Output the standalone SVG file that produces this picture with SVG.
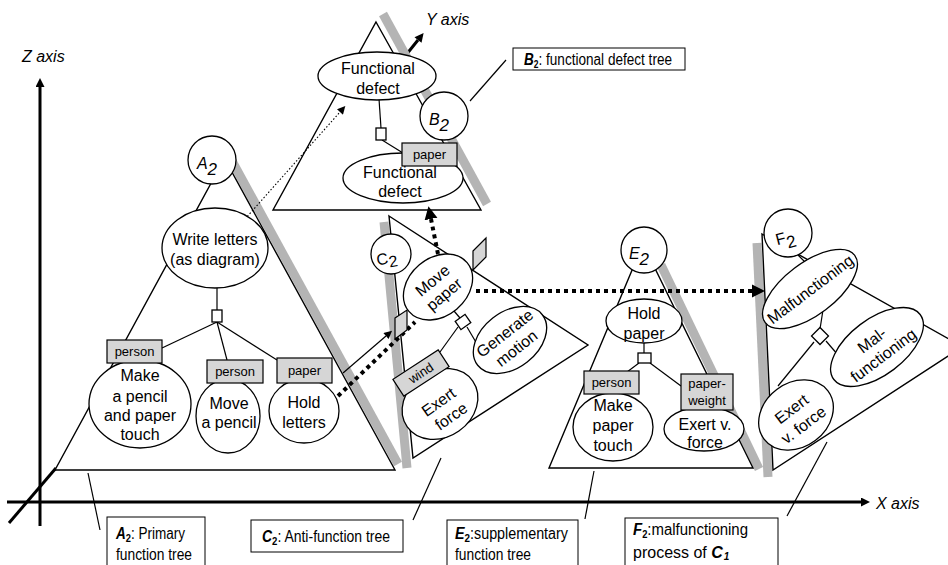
<svg xmlns="http://www.w3.org/2000/svg" width="948" height="565" viewBox="0 0 948 565">
  <defs>
    <marker id="axisHead" viewBox="0 0 10 10" refX="0" refY="5" markerWidth="10" markerHeight="9" markerUnits="userSpaceOnUse" orient="auto">
      <path d="M0,0 L10,5 L0,10 z" fill="#000"/>
    </marker>
    <marker id="bigHead" viewBox="0 0 10 10" refX="0" refY="5" markerWidth="13" markerHeight="14" markerUnits="userSpaceOnUse" orient="auto">
      <path d="M0,0 L10,5 L0,10 z" fill="#000"/>
    </marker>
    <marker id="thinHead" viewBox="0 0 10 10" refX="0" refY="5" markerWidth="9" markerHeight="8" markerUnits="userSpaceOnUse" orient="auto">
      <path d="M0,0 L10,5 L0,10 z" fill="#000"/>
    </marker>
  </defs>
  <style>
    .t{font-family:"Liberation Sans",Arial,sans-serif;fill:#000;text-anchor:middle;font-size:16px}
    .it{font-style:italic}
    .lbl{font-family:"Liberation Sans",Arial,sans-serif;fill:#000;font-size:16px}
    .node{fill:#fff;stroke:#000;stroke-width:1.3}
    .tag{fill:#d6d6d6;stroke:#000;stroke-width:1.2}
    .edge{stroke:#000;stroke-width:1.2;fill:none}
    .shade{stroke:#b4b4b4;stroke-width:9;fill:none}
    .plane{fill:#fff;stroke:#000;stroke-width:1.4}
    .axis{stroke:#000;stroke-width:3;fill:none}
    .dots{stroke:#000;stroke-width:4;stroke-dasharray:4 4;fill:none}
    .box{fill:#fff;stroke:#000;stroke-width:1}
    .small{font-size:13px}
  </style>

  <!-- coordinate axes -->
  <g id="axes">
    <line class="axis" x1="40" y1="526" x2="40" y2="87" marker-end="url(#axisHead)"/>
    <line class="axis" x1="7" y1="502" x2="861" y2="502" marker-end="url(#axisHead)"/>
    <line class="axis" x1="9" y1="523" x2="56" y2="468"/>
    <line class="axis" x1="406" y1="55" x2="418" y2="40" marker-end="url(#axisHead)"/>
    <text class="lbl it" x="22" y="62" font-size="17">Z axis</text>
    <text class="lbl it" x="426" y="25" font-size="17">Y axis</text>
    <text class="lbl it" x="876" y="509" font-size="17">X axis</text>
  </g>

  <!-- shaded plane edges -->
  <g id="shades">
    <line class="shade" x1="232" y1="161" x2="398" y2="464"/>
    <line class="shade" x1="383" y1="14" x2="487" y2="204"/>
    <line class="shade" x1="384" y1="222" x2="407" y2="468"/>
    <line class="shade" x1="661" y1="265" x2="759" y2="469"/>
    <line class="shade" x1="757" y1="243" x2="768" y2="477"/>
  </g>

  <!-- tree planes -->
  <g id="planes">
    <polygon class="plane" points="224.5,158.5 395,470 55,470"/>
    <polygon class="plane" points="376,22 481,210 273,210"/>
    <polygon class="plane" points="389,216 588,345 413,458"/>
    <polygon class="plane" points="643,244 753,468 549,468"/>
    <polygon class="plane" points="762,234 965,348 965,345 773,470"/>
  </g>

  <!-- connectors -->
  <g id="connectors">
    <!-- A2 tree -->
    <line class="edge" x1="217" y1="288" x2="217" y2="310"/>
    <line class="edge" x1="217" y1="322" x2="162" y2="348"/>
    <line class="edge" x1="217" y1="322" x2="227" y2="360"/>
    <line class="edge" x1="217" y1="322" x2="277" y2="360"/>
    <!-- B2 tree -->
    <line class="edge" x1="379" y1="99" x2="381" y2="128"/>
    <line class="edge" x1="382" y1="140" x2="403" y2="153"/>
    <!-- C2 tree -->
    <line class="edge" x1="454" y1="311" x2="460" y2="318"/>
    <line class="edge" x1="467" y1="327" x2="477" y2="344"/>
    <line class="edge" x1="458" y1="327" x2="440" y2="352"/>
    <!-- E2 tree -->
    <line class="edge" x1="644" y1="343" x2="644" y2="353"/>
    <line class="edge" x1="639" y1="363" x2="627" y2="372"/>
    <line class="edge" x1="650" y1="363" x2="681" y2="386"/>
    <!-- F2 tree -->
    <line class="edge" x1="797" y1="254" x2="806" y2="263"/>
    <line class="edge" x1="823" y1="310" x2="820" y2="329"/>
    <line class="edge" x1="826" y1="341" x2="838" y2="355"/>
    <line class="edge" x1="814" y1="342" x2="778" y2="386"/>
    <!-- label leaders -->
    <line class="edge" x1="470" y1="101" x2="506" y2="60"/>
    <line class="edge" x1="88" y1="473" x2="100" y2="530"/>
    <line class="edge" x1="413" y1="520" x2="441" y2="458"/>
    <line class="edge" x1="585" y1="519" x2="594" y2="471"/>
    <line class="edge" x1="787" y1="516" x2="827" y2="442"/>
    <!-- relations between trees -->
    <line x1="245" y1="219" x2="340" y2="112" stroke="#000" stroke-width="1.1" stroke-dasharray="1.5 2" marker-end="url(#thinHead)"/>
    <line class="edge" x1="343" y1="373" x2="386" y2="336" marker-end="url(#thinHead)"/>
    <line class="dots" x1="338" y1="396" x2="415" y2="322"/>
    <line class="dots" x1="438" y1="254" x2="431" y2="219" marker-end="url(#bigHead)"/>
    <line class="dots" x1="476" y1="291" x2="752" y2="291" marker-end="url(#bigHead)"/>
  </g>

  <!-- A2: primary function tree -->
  <g id="nodeA2">
    <circle class="node" cx="212" cy="160" r="24"/>
    <text class="t it" x="207" y="169" font-size="25">A<tspan font-size="17" dy="6">2</tspan></text>
  </g>
  <g id="writeLetters">
    <ellipse class="node" cx="215" cy="248" rx="53" ry="40"/>
    <text class="t" x="215" y="245">Write letters</text>
    <text class="t" x="215" y="265">(as diagram)</text>
  </g>
  <rect class="node" x="212" y="310" width="10" height="12"/>
  <g id="makePencilTouch">
    <ellipse class="node" cx="140" cy="404" rx="51" ry="44"/>
    <text class="t" x="140" y="381">Make</text>
    <text class="t" x="140" y="402">a pencil</text>
    <text class="t" x="140" y="421">and paper</text>
    <text class="t" x="140" y="440">touch</text>
    <rect class="tag" x="107" y="340" width="55" height="23"/>
    <text class="t small" x="134.5" y="356">person</text>
  </g>
  <g id="movePencil">
    <ellipse class="node" cx="228" cy="416" rx="32" ry="37"/>
    <text class="t" x="229" y="409">Move</text>
    <text class="t" x="229" y="428">a pencil</text>
    <rect class="tag" x="207" y="360" width="56" height="23"/>
    <text class="t small" x="235" y="376">person</text>
  </g>
  <g id="holdLetters">
    <ellipse class="node" cx="304" cy="411" rx="35" ry="32"/>
    <text class="t" x="304" y="408">Hold</text>
    <text class="t" x="304" y="428">letters</text>
    <rect class="tag" x="277" y="358" width="55" height="25"/>
    <text class="t small" x="304.5" y="375">paper</text>
  </g>

  <!-- B2: functional defect tree -->
  <g id="defectTop">
    <ellipse class="node" cx="377" cy="76" rx="59" ry="24"/>
    <text class="t" x="378" y="74">Functional</text>
    <text class="t" x="378" y="94">defect</text>
  </g>
  <rect class="node" x="376" y="128" width="10" height="12"/>
  <g id="nodeB2">
    <circle class="node" cx="444" cy="116" r="24"/>
    <text class="t it" x="439" y="125" font-size="25">B<tspan font-size="17" dy="6">2</tspan></text>
  </g>
  <g id="defectLow">
    <ellipse class="node" cx="403" cy="178" rx="60" ry="25"/>
    <text class="t" x="400" y="178">Functional</text>
    <text class="t" x="400" y="197">defect</text>
    <rect class="tag" x="402" y="143" width="55" height="23"/>
    <text class="t small" x="429.5" y="159">paper</text>
  </g>

  <!-- C2: anti-function tree -->
  <g id="nodeC2">
    <circle class="node" cx="391" cy="254" r="20"/>
    <text class="t" x="386" y="263" font-size="25" transform="rotate(-10 391 254)">C<tspan font-size="16" dy="4">2</tspan></text>
  </g>
  <polygon class="tag" points="473,251 486,238 486,257 473,270"/>
  <polygon class="tag" points="395,318 407,310 407,330 395,339"/>
  <g id="moveItem" transform="translate(438 287) rotate(-40)">
    <ellipse class="node" rx="38" ry="29"/>
    <text class="t" x="0" y="-3">Move</text>
    <text class="t" x="0" y="15">paper</text>
  </g>
  <polygon class="node" points="-6,-5 6,-5 6,5 -6,5" transform="translate(463 322) rotate(-35)"/>
  <g id="generateMotion" transform="translate(510 340) rotate(-38)">
    <ellipse class="node" rx="41" ry="28"/>
    <text class="t" x="0" y="-3">Generate</text>
    <text class="t" x="0" y="16">motion</text>
  </g>
  <g id="exertForce" transform="translate(440 404) rotate(-35)">
    <ellipse class="node" rx="40" ry="33"/>
    <text class="t" x="0" y="3">Exert</text>
    <text class="t" x="2" y="22">force</text>
  </g>
  <g id="windTag" transform="translate(421 373) rotate(-33)">
    <rect class="tag" x="-27" y="-10" width="54" height="20"/>
    <text class="t small" x="0" y="4.5">wind</text>
  </g>

  <!-- E2: supplementary function tree -->
  <g id="nodeE2">
    <circle class="node" cx="644" cy="250" r="23"/>
    <text class="t it" x="639" y="259" font-size="25">E<tspan font-size="17" dy="6">2</tspan></text>
  </g>
  <g id="holdPaper">
    <ellipse class="node" cx="644" cy="321" rx="38" ry="22"/>
    <text class="t" x="644" y="319">Hold</text>
    <text class="t" x="644" y="339">paper</text>
  </g>
  <rect class="node" x="638" y="353" width="13" height="10"/>
  <g id="makePaperTouch">
    <ellipse class="node" cx="613" cy="427" rx="40" ry="34"/>
    <text class="t" x="613" y="411">Make</text>
    <text class="t" x="613" y="431">paper</text>
    <text class="t" x="613" y="451">touch</text>
    <rect class="tag" x="584" y="371" width="55" height="23"/>
    <text class="t small" x="611.5" y="387">person</text>
  </g>
  <g id="exertVForce">
    <ellipse class="node" cx="704" cy="429" rx="40" ry="22"/>
    <text class="t" x="705" y="430">Exert v.</text>
    <text class="t" x="705" y="448">force</text>
    <rect class="tag" x="681" y="374" width="52" height="36"/>
    <text class="t small" x="707" y="388">paper-</text>
    <text class="t small" x="707" y="405">weight</text>
  </g>

  <!-- F2: malfunctioning process -->
  <g id="nodeF2">
    <circle class="node" cx="788" cy="233" r="24"/>
    <text class="t" x="784" y="242" font-size="25" transform="rotate(-15 788 233)">F<tspan font-size="17" dy="6">2</tspan></text>
  </g>
  <g id="malfunctioning" transform="translate(810 289) rotate(-37)">
    <ellipse class="node" rx="56" ry="26"/>
    <text class="t" x="0" y="6">Malfunctioning</text>
  </g>
  <polygon class="node" points="-6,-6 6,-6 6,6 -6,6" transform="translate(820 336) rotate(-45)"/>
  <g id="malfunctioning2" transform="translate(877 347) rotate(-37)">
    <ellipse class="node" rx="54" ry="28"/>
    <text class="t" x="0" y="-3">Mal-</text>
    <text class="t" x="0" y="16">functioning</text>
  </g>
  <g id="exertVForce2" transform="translate(796 415) rotate(-37)">
    <ellipse class="node" rx="40" ry="32"/>
    <text class="t" x="0" y="-2">Exert</text>
    <text class="t" x="0" y="18">v. force</text>
  </g>

  <!-- captions -->
  <g id="captionB2">
    <rect class="box" x="513" y="48" width="172" height="22"/>
    <text class="lbl" x="524" y="65" font-size="15" textLength="148" lengthAdjust="spacingAndGlyphs"><tspan font-weight="bold" font-style="italic">B</tspan><tspan font-weight="bold" font-size="10" dy="3">2</tspan><tspan dy="-3">: functional defect tree</tspan></text>
  </g>
  <g id="captionA2">
    <rect class="box" x="107" y="517" width="98" height="52"/>
    <text class="lbl" x="116" y="539" textLength="69" lengthAdjust="spacingAndGlyphs"><tspan font-weight="bold" font-style="italic">A</tspan><tspan font-weight="bold" font-size="11" dy="3">2</tspan><tspan dy="-3">: Primary</tspan></text>
    <text class="lbl" x="116" y="560" textLength="76" lengthAdjust="spacingAndGlyphs">function tree</text>
  </g>
  <g id="captionC2">
    <rect class="box" x="251" y="520" width="152" height="32"/>
    <text class="lbl" x="262" y="542" textLength="128" lengthAdjust="spacingAndGlyphs"><tspan font-weight="bold" font-style="italic">C</tspan><tspan font-weight="bold" font-size="11" dy="3">2</tspan><tspan dy="-3">:  Anti-function tree</tspan></text>
  </g>
  <g id="captionE2">
    <rect class="box" x="447" y="520" width="131" height="49"/>
    <text class="lbl" x="455" y="539" textLength="113" lengthAdjust="spacingAndGlyphs"><tspan font-weight="bold" font-style="italic">E</tspan><tspan font-weight="bold" font-size="11" dy="3">2</tspan><tspan dy="-3">:supplementary</tspan></text>
    <text class="lbl" x="455" y="560" textLength="76" lengthAdjust="spacingAndGlyphs">function tree</text>
  </g>
  <g id="captionF2">
    <rect class="box" x="625" y="518" width="153" height="51"/>
    <text class="lbl" x="633" y="535" font-size="15" textLength="115" lengthAdjust="spacingAndGlyphs"><tspan font-weight="bold" font-style="italic">F</tspan><tspan font-weight="bold" font-size="10" dy="3">2</tspan><tspan dy="-3">:malfunctioning</tspan></text>
    <text class="lbl" x="633" y="558" font-size="15">process of <tspan font-weight="bold" font-style="italic">C</tspan><tspan font-weight="bold" font-style="italic" font-size="10" dx="1" dy="2">1</tspan></text>
  </g>
</svg>
